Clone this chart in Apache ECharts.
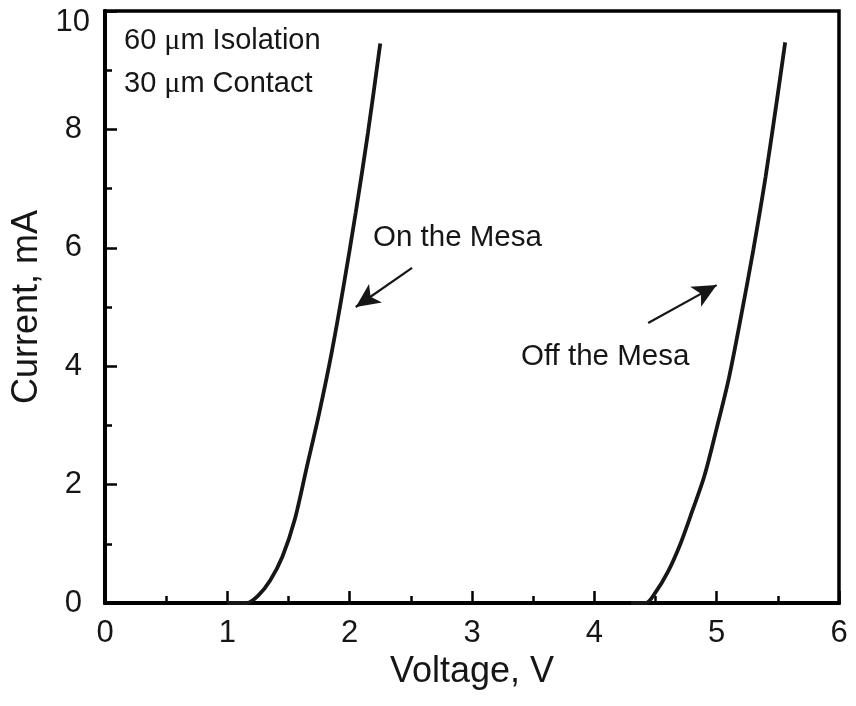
<!DOCTYPE html>
<html>
<head>
<meta charset="utf-8">
<script src="https://cdn.jsdelivr.net/npm/echarts@6/dist/echarts.min.js"></script>
<style>html,body{margin:0;padding:0;background:#fff;}#c{width:856px;height:706px;}</style>
</head>
<body>
<div id="c"></div>
<script>
// On the Mesa curve (Voltage V, Current mA)
const onMesaV = [1.0, 1.16, 1.25, 1.35, 1.45, 1.55, 1.65, 1.75, 1.85, 1.95, 2.05, 2.15, 2.25];
const onMesaI = [0, 0, 0.12, 0.38, 0.78, 1.4, 2.3, 3.2, 4.2, 5.35, 6.6, 7.95, 9.45];
// Off the Mesa curve
const offMesaV = [4.3, 4.42, 4.5, 4.6, 4.7, 4.8, 4.9, 5.0, 5.1, 5.2, 5.3, 5.4, 5.5, 5.56];
const offMesaI = [0, 0, 0.18, 0.52, 0.98, 1.55, 2.15, 2.95, 3.8, 4.85, 5.97, 7.2, 8.6, 9.47];
// Annotation arrows [tail, head] in data coords
const onArrow = [[2.51, 5.66], [2.05, 5.0]];
const offArrow = [[4.44, 4.73], [5.00, 5.37]];
const xTicks = {min: 0, max: 6, interval: 1};
const yTicks = {min: 0, max: 10, interval: 2};

const pairs = (xs, ys) => xs.map((x, i) => [x, ys[i]]);
const font = 'Liberation Sans, Arial, sans-serif';
const ink = '#161616';

const arrowLine = (a) => ({
  silent: true,
  symbol: ['none', 'arrow'],
  symbolSize: [17, 24],
  label: {show: false},
  lineStyle: {color: ink, width: 2.2, type: 'solid'},
  emphasis: {disabled: true},
  data: [[{coord: a[0]}, {coord: a[1]}]]
});

const chart = echarts.init(document.getElementById('c'));
chart.setOption({
  animation: false,
  backgroundColor: '#fff',
  grid: {left: 105, right: 17, top: 11, bottom: 103, show: true, borderColor: '#000', borderWidth: 3.5,
         containLabel: false, outerBoundsMode: 'none'},
  xAxis: {
    type: 'value', min: xTicks.min, max: xTicks.max, interval: xTicks.interval,
    name: 'Voltage, V', nameLocation: 'middle', nameGap: 43,
    nameTextStyle: {fontFamily: font, fontSize: 36, color: ink},
    axisLine: {show: true, onZero: false, lineStyle: {color: '#000', width: 4}},
    axisTick: {show: true, inside: true, length: 12, lineStyle: {color: '#000', width: 2.5}},
    minorTick: {show: true, splitNumber: 2, length: 7, lineStyle: {color: '#000', width: 2.5}},
    splitLine: {show: false},
    axisLabel: {fontFamily: font, fontSize: 31, color: ink, margin: 15}
  },
  yAxis: {
    type: 'value', min: yTicks.min, max: yTicks.max, interval: yTicks.interval,
    name: 'Current, mA', nameLocation: 'middle', nameGap: 54,
    nameTextStyle: {fontFamily: font, fontSize: 36, color: ink},
    axisLine: {show: true, onZero: false, lineStyle: {color: '#000', width: 4}},
    axisTick: {show: true, inside: true, length: 12, lineStyle: {color: '#000', width: 2.5}},
    minorTick: {show: true, splitNumber: 2, length: 7, lineStyle: {color: '#000', width: 2.5}},
    splitLine: {show: false},
    axisLabel: {
      fontFamily: font, fontSize: 31, color: ink, margin: 15,
      formatter: (v) => v === yTicks.max ? '{top|' + v + '}' : '{n|' + v + '}',
      rich: {
        top: {fontFamily: font, fontSize: 31, color: ink, padding: [22, 0, 0, 0]},
        n: {fontFamily: font, fontSize: 31, color: ink, padding: [0, 8, 0, 0]}
      }
    }
  },
  series: [
    {
      type: 'line', name: 'On the Mesa', data: pairs(onMesaV, onMesaI), smooth: 0.3,
      showSymbol: false, lineStyle: {color: ink, width: 3.8}, silent: true,
      markLine: arrowLine(onArrow)
    },
    {
      type: 'line', name: 'Off the Mesa', data: pairs(offMesaV, offMesaI), smooth: 0.3,
      showSymbol: false, lineStyle: {color: ink, width: 3.8}, silent: true,
      markLine: arrowLine(offArrow)
    }
  ],
  graphic: [
    {type: 'text', left: 124, top: 26, style: {
      text: '60 {mu|μ}m Isolation', fontFamily: font, fontSize: 29, fill: ink,
      rich: {mu: {fontFamily: 'Liberation Serif, serif', fontSize: 30, fill: ink}}}},
    {type: 'text', left: 124, top: 69, style: {
      text: '30 {mu|μ}m Contact', fontFamily: font, fontSize: 29, fill: ink,
      rich: {mu: {fontFamily: 'Liberation Serif, serif', fontSize: 30, fill: ink}}}},
    {type: 'text', left: 373, top: 223, style: {text: 'On the Mesa', fontFamily: font, fontSize: 29.5, fill: ink}},
    {type: 'text', left: 521, top: 342, style: {text: 'Off the Mesa', fontFamily: font, fontSize: 29.5, fill: ink}}
  ]
});
</script>
</body>
</html>
